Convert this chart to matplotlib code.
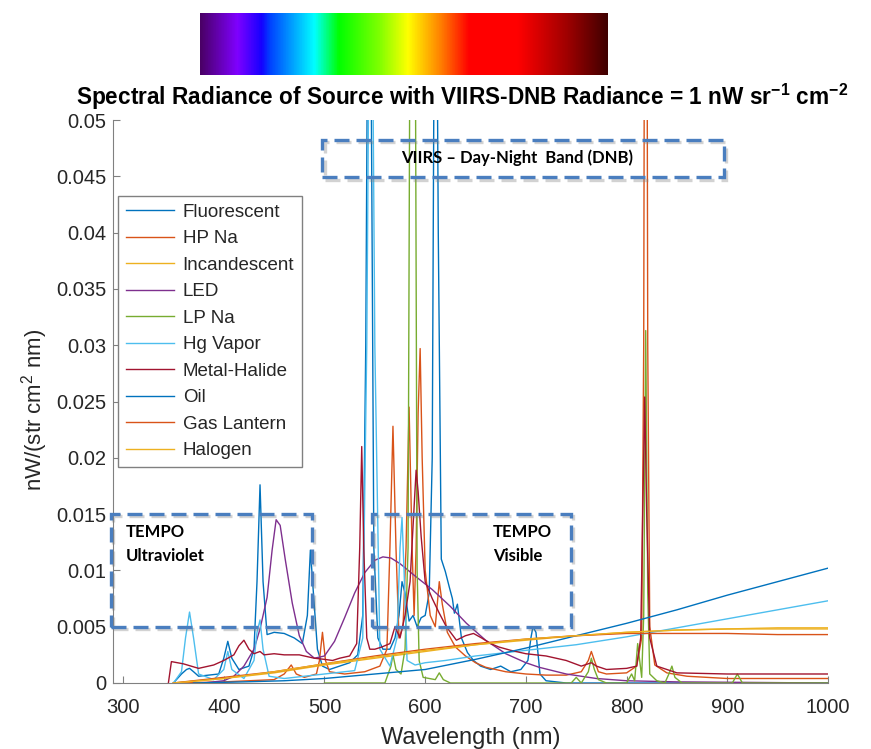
import matplotlib
matplotlib.use("Agg")
import matplotlib.pyplot as plt
import numpy as np
from matplotlib.patches import Rectangle
from matplotlib.colors import LinearSegmentedColormap
import matplotlib.patheffects as pe

plt.rcParams['font.family'] = ['Liberation Sans', 'DejaVu Sans']
plt.rcParams['mathtext.fontset'] = 'custom'
plt.rcParams['mathtext.rm'] = 'Liberation Sans'
plt.rcParams['mathtext.bf'] = 'Liberation Sans:bold'

# ---------------- data ----------------
series_names = ["Fluorescent", "HP Na", "Incandescent", "LED", "LP Na",
                "Hg Vapor", "Metal-Halide", "Oil", "Gas Lantern", "Halogen"]
series_colors = ["#0072BD", "#D95319", "#EDB120", "#7E2F8E", "#77AC30",
                 "#4DBEEE", "#A2142F", "#0072BD", "#D95319", "#EDB120"]

fluorescent_nm = [350, 358, 363, 366, 370, 375, 395, 400, 404, 408, 415, 425, 430, 433, 436, 439, 443, 450,
                  460, 470, 478, 483, 486, 489, 493, 498, 505, 515, 525, 533, 538, 541, 543.5, 546, 549, 553,
                  558, 565, 570, 574, 577, 580, 584, 588, 592, 596, 600, 604, 607, 609, 611, 613, 616, 620,
                  624, 627, 629, 632, 636, 642, 648, 655, 665, 675, 685, 695, 702, 705, 707, 710, 714, 720,
                  740, 800, 1000]
fluorescent_val = [0, 0.0008, 0.0012, 0.0013, 0.0010, 0.0006, 0.0008, 0.0022, 0.0037, 0.0022, 0.0012, 0.0015,
                   0.003, 0.009, 0.0176, 0.009, 0.0043, 0.0045, 0.0044, 0.004, 0.0035, 0.006, 0.0118, 0.008,
                   0.003, 0.0015, 0.0012, 0.0015, 0.0018, 0.0025, 0.006, 0.03, 0.07, 0.06, 0.012, 0.004, 0.003,
                   0.003, 0.004, 0.006, 0.009, 0.008, 0.0055, 0.006, 0.005, 0.0058, 0.006, 0.008, 0.02, 0.06,
                   0.07, 0.04, 0.011, 0.0099, 0.0085, 0.0075, 0.0062, 0.007, 0.004, 0.0027, 0.002, 0.0015,
                   0.0012, 0.0015, 0.001, 0.0012, 0.002, 0.004, 0.005, 0.0045, 0.0008, 0.0002, 0, 0, 0]

hpna_nm = [350, 400, 450, 460, 467, 472, 480, 492, 495, 498, 501, 505, 520, 540, 555, 562, 565, 568, 571, 574,
           578, 581, 584, 587, 589, 591, 593, 595, 597, 600, 605, 610, 614, 617, 622, 630, 640, 650, 660, 680,
           700, 720, 740, 755, 762, 765, 768, 772, 780, 800, 810, 815, 817, 819, 821, 823, 828, 840, 860, 900, 1000]
hpna_val = [0, 0.0001, 0.0003, 0.0008, 0.0016, 0.0008, 0.0005, 0.0008, 0.002, 0.0045, 0.002, 0.001, 0.0008,
            0.001, 0.0015, 0.003, 0.012, 0.0228, 0.012, 0.004, 0.005, 0.012, 0.0245, 0.012, 0.006, 0.012, 0.024,
            0.0297, 0.02, 0.01, 0.006, 0.005, 0.009, 0.007, 0.0045, 0.0032, 0.0024, 0.0018, 0.0014, 0.001,
            0.0008, 0.0007, 0.0007, 0.001, 0.002, 0.0028, 0.002, 0.001, 0.0008, 0.0009, 0.0015, 0.004, 0.03,
            0.12, 0.03, 0.005, 0.0016, 0.0009, 0.0006, 0.0004, 0.0004]

incandescent_nm = [350, 400, 450, 500, 550, 600, 650, 700, 750, 800, 850, 900, 950, 1000]
incandescent_val = [0, 0.0004, 0.0009, 0.0016, 0.0022, 0.0028, 0.0034, 0.0038, 0.0042, 0.0045, 0.0047,
                    0.0048, 0.0049, 0.0049]

led_nm = [380, 400, 410, 420, 430, 436, 443, 448, 452, 456, 461, 468, 475, 482, 490, 500, 510, 520, 530, 540,
          550, 558, 566, 575, 590, 607, 625, 641, 660, 680, 700, 713, 740, 770, 800, 850, 1000]
led_val = [0, 0.0002, 0.0006, 0.0015, 0.003, 0.0048, 0.0076, 0.0118, 0.0145, 0.014, 0.011, 0.0071, 0.0042,
           0.0028, 0.0022, 0.0024, 0.0037, 0.0058, 0.008, 0.0098, 0.0109, 0.0112, 0.0111, 0.0106, 0.0095,
           0.0083, 0.0068, 0.0053, 0.0038, 0.0026, 0.0018, 0.0014, 0.0008, 0.0004, 0.0002, 0.0001, 0]

lpna_nm = [500, 560, 566, 568, 571, 576, 580, 583, 584.5, 587.5, 590.5, 592, 594, 598, 610, 614, 618, 625, 700,
           745, 750, 755, 762, 765, 768, 772, 780, 800, 805, 808, 811, 813, 815, 817, 819, 821, 823, 830, 838,
           842, 845, 848, 855, 905, 910, 915, 1000]
lpna_val = [0, 0, 0.0015, 0.0025, 0.0012, 0.0008, 0.003, 0.012, 0.05, 0.15, 0.05, 0.01, 0.002, 0.0005, 0.0003,
            0.0009, 0.0003, 0, 0, 0, 0.0005, 0, 0.001, 0.0022, 0.0012, 0.0003, 0, 0, 0.0008, 0.0002, 0.0035,
            0.002, 0.0005, 0.006, 0.0313, 0.008, 0.0008, 0.0002, 0, 0.0008, 0.0015, 0.0005, 0, 0, 0.0008, 0, 0]

hgvapor_nm = [350, 358, 362, 366, 370, 375, 390, 400, 404, 408, 420, 430, 433, 436, 439, 445, 460, 500, 530,
              538, 542, 546, 550, 555, 565, 572, 575, 577, 579, 582, 590, 600, 620, 650, 700, 750, 800, 850,
              900, 950, 1000]
hgvapor_val = [0, 0.001, 0.004, 0.0063, 0.004, 0.0008, 0.0003, 0.0012, 0.0028, 0.0012, 0.0004, 0.002, 0.0045,
               0.0056, 0.003, 0.0006, 0.0004, 0.0008, 0.0011, 0.004, 0.03, 0.08, 0.03, 0.003, 0.0015, 0.004,
               0.012, 0.0147, 0.01, 0.002, 0.0016, 0.0018, 0.002, 0.0024, 0.0029, 0.0034, 0.0041, 0.0049,
               0.0057, 0.0065, 0.0073]

metalhalide_nm = [345, 348, 360, 375, 390, 400, 410, 415, 420, 425, 430, 436, 440, 450, 460, 475, 490, 500, 508,
                  515, 525, 532, 535, 537, 539, 542, 545, 550, 557, 565, 570, 575, 580, 585, 588, 591, 593, 596,
                  600, 607, 614, 621, 631, 640, 648, 656, 665, 673, 685, 700, 720, 740, 755, 765, 770, 780, 800,
                  810, 814, 816, 818, 820, 823, 830, 850, 900, 1000]
metalhalide_val = [0, 0.0019, 0.0017, 0.0013, 0.0016, 0.002, 0.0025, 0.0033, 0.0038, 0.003, 0.0026, 0.0028,
                   0.0025, 0.0026, 0.0025, 0.0025, 0.0022, 0.0021, 0.002, 0.0022, 0.0024, 0.0035, 0.012, 0.021,
                   0.012, 0.004, 0.003, 0.003, 0.0032, 0.0035, 0.005, 0.004, 0.006, 0.009, 0.014, 0.0189, 0.017,
                   0.013, 0.009, 0.0075, 0.0062, 0.005, 0.0038, 0.0042, 0.0044, 0.004, 0.0035, 0.0032, 0.0029,
                   0.0026, 0.0024, 0.002, 0.0015, 0.0018, 0.0015, 0.0012, 0.0013, 0.0015, 0.004, 0.015, 0.0254,
                   0.015, 0.004, 0.0015, 0.0009, 0.0008, 0.0008]

oil_nm = [370, 420, 460, 500, 550, 600, 650, 700, 750, 800, 850, 900, 950, 1000]
oil_val = [0, 0.0001, 0.0002, 0.0004, 0.0008, 0.0012, 0.0021, 0.0031, 0.0042, 0.0053, 0.0065, 0.0078, 0.009,
           0.0102]

gaslantern_nm = [350, 400, 450, 500, 550, 600, 650, 700, 750, 800, 850, 900, 950, 1000]
gaslantern_val = [0, 0.0005, 0.001, 0.0017, 0.0024, 0.003, 0.0035, 0.0039, 0.0042, 0.0044, 0.0044, 0.0044,
                  0.0043, 0.0043]

halogen_nm = [350, 400, 450, 500, 550, 600, 650, 700, 750, 800, 850, 900, 950, 1000]
halogen_val = [0, 0.0004, 0.001, 0.0017, 0.0023, 0.0029, 0.0034, 0.0039, 0.0042, 0.0045, 0.0047, 0.0048,
               0.0048, 0.0048]

series_data = [(fluorescent_nm, fluorescent_val), (hpna_nm, hpna_val), (incandescent_nm, incandescent_val),
               (led_nm, led_val), (lpna_nm, lpna_val), (hgvapor_nm, hgvapor_val),
               (metalhalide_nm, metalhalide_val), (oil_nm, oil_val), (gaslantern_nm, gaslantern_val),
               (halogen_nm, halogen_val)]

y_ticks = [0, 0.005, 0.01, 0.015, 0.02, 0.025, 0.03, 0.035, 0.04, 0.045, 0.05]
y_tick_labels = ["0", "0.005", "0.01", "0.015", "0.02", "0.025", "0.03", "0.035", "0.04", "0.045", "0.05"]
x_ticks = [300, 400, 500, 600, 700, 800, 900, 1000]

spectrum_colors = ["#4a0066", "#7f00ff", "#1500ff", "#0040ff", "#00ffff", "#00ff00", "#80ff00", "#ffff00",
                   "#ff8000", "#ff0000", "#ff0000", "#a00000", "#400000"]
spectrum_stops = [0.0, 0.09, 0.15, 0.17, 0.28, 0.34, 0.44, 0.51, 0.59, 0.66, 0.78, 0.9, 1.0]

# ---------------- figure ----------------
fig = plt.figure(figsize=(8.71, 7.49), dpi=100)

# rainbow strip
cax = fig.add_axes([200/871, 1-75/749, 407/871, 62/749])
cmap = LinearSegmentedColormap.from_list("spec", list(zip(spectrum_stops, spectrum_colors)))
cax.imshow(np.linspace(0, 1, 512)[None, :], aspect='auto', cmap=cmap)
cax.set_axis_off()

ax = fig.add_axes([113/871, 1-683/749, 715/871, 563/749])
for name, col, (xs, ys) in zip(series_names, series_colors, series_data):
    ax.plot(xs, ys, color=col, lw=1.0, label=name)

ax.set_xlim(290, 1000)
ax.set_ylim(0, 0.05)
ax.set_xticks(x_ticks)
ax.set_yticks(y_ticks)
ax.set_yticklabels(y_tick_labels)
ax.tick_params(direction='in', length=5, color='#808080', labelsize=14.5, labelcolor='#262626')
ax.tick_params(axis='x', pad=11)
ax.tick_params(axis='y', pad=5)
for s in ['top', 'right']:
    ax.spines[s].set_visible(False)
for s in ['left', 'bottom']:
    ax.spines[s].set_color('#808080')
ax.set_xlabel("Wavelength (nm)", fontsize=17, color='#262626')
ax.xaxis.set_label_coords(0.5, (683-738)/563, transform=ax.transAxes)
ax.xaxis.label.set_va('center')
ax.set_ylabel(r"nW/(str cm$^{2}$ nm)", fontsize=16, color='#262626')
ax.yaxis.set_label_coords((35-113)/715, (683-410)/563, transform=ax.transAxes)
ax.yaxis.label.set_va('center')

fig.text(0.531, 1-97/749,
         r"Spectral Radiance of Source with VIIRS-DNB Radiance = 1 nW sr$^{\mathbf{-1}}$ cm$^{\mathbf{-2}}$",
         ha='center', va='center', fontsize=16.3, fontweight='bold')

leg = ax.legend(loc='upper left', bbox_to_anchor=(5/715, (683-196)/563), borderaxespad=0,
                fontsize=13.5, labelspacing=0.5, handlelength=2.6, handletextpad=0.45,
                fancybox=False, framealpha=1, edgecolor='#808080', borderpad=0.4)
leg.get_frame().set_linewidth(1.0)
for t in leg.get_texts():
    t.set_color('#262626')

# dashed annotation boxes
box_color = '#4a7ebf'
shadow = [pe.SimpleLineShadow(offset=(1.5, -1.5), shadow_color='gray', alpha=0.35), pe.Normal()]
for (x0, x1, y0, y1) in [(498, 897, 0.0449, 0.0482), (288, 488, 0.0050, 0.0150), (547, 745, 0.0050, 0.0150)]:
    r = Rectangle((x0, y0), x1-x0, y1-y0, fill=False, edgecolor=box_color, lw=2.4,
                  linestyle=(0, (4.5, 2.1)), clip_on=False, zorder=5)
    r.set_path_effects(shadow)
    ax.add_patch(r)

box_font = dict(fontsize=12, fontweight='bold', family=['Lato', 'DejaVu Sans'], color='black', zorder=6)
fig.text(401/871, 1-158/749, "VIIRS \u2013 Day-Night  Band (DNB)", ha='left', va='center', **box_font)
fig.text(126/871, 1-532/749, "TEMPO", ha='left', va='center', **box_font)
fig.text(126/871, 1-556/749, "Ultraviolet", ha='left', va='center', **box_font)
fig.text(493/871, 1-532/749, "TEMPO", ha='left', va='center', **box_font)
fig.text(493/871, 1-556/749, "Visible", ha='left', va='center', **box_font)

fig.savefig("out.png", dpi=100)
